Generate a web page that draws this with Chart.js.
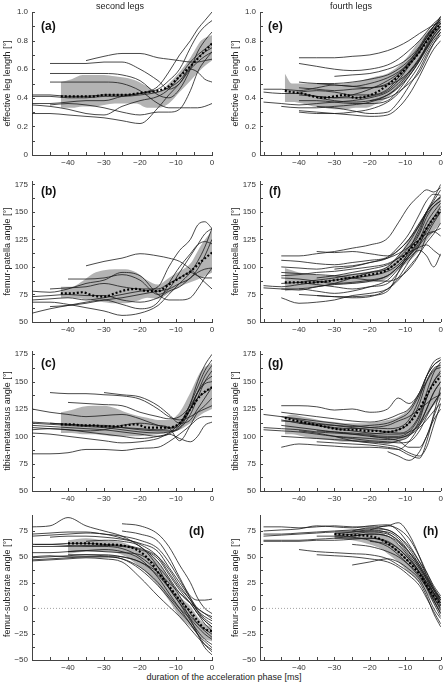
<!DOCTYPE html>
<html>
<head>
<meta charset="utf-8">
<script src="https://cdn.jsdelivr.net/npm/chart.js@4.4.0/dist/chart.umd.min.js"></script>
<style>
  body { margin: 0; width: 446px; height: 685px; background: #fff; position: relative; overflow: hidden;
         font-family: "Liberation Sans", Arial, sans-serif; }
  canvas { position: absolute; }
  .txt { position: absolute; font-size: 9px; color: #222; white-space: nowrap; transform: translate(-50%, -50%); }
  .tag { position: absolute; font-size: 12px; font-weight: bold; color: #111; white-space: nowrap; }
</style>
</head>
<body>
<div class="txt" style="left:120px;top:6px">second legs</div>
<div class="txt" style="left:351px;top:6px">fourth legs</div>
<div class="txt" style="left:224px;top:677px">duration of the acceleration phase [ms]</div>
<div class="tag" style="left:41px;top:19px">(a)</div>
<div class="tag" style="left:41px;top:184px">(b)</div>
<div class="tag" style="left:41px;top:356px">(c)</div>
<div class="tag" style="left:189px;top:524px">(d)</div>
<div class="tag" style="left:268px;top:19px">(e)</div>
<div class="tag" style="left:269px;top:184px">(f)</div>
<div class="tag" style="left:268px;top:356px">(g)</div>
<div class="tag" style="left:423px;top:524px">(h)</div>
<script>
const _ = null;

// time grid of the single trials (ms before the end of the acceleration phase)
const lineX = [-50, -45, -40, -35, -30, -25, -20, -15, -12, -9, -6, -4, -2, 0];

// tick labels
const timeTicks = [-40, -30, -20, -10, 0];
const lenTicks = [0, 0.2, 0.4, 0.6, 0.8, 1.0];
const angTicks = [50, 75, 100, 125, 150, 175];
const subTicks = [-50, -25, 0, 25, 50, 75];

// (a) second legs, effective leg length
const bandXa = [-42, -39, -36, -33, -30, -27, -24, -21, -18, -15, -12, -9, -6, -3, 0];
const upperA = [0.51, 0.53, 0.56, 0.56, 0.56, 0.55, 0.54, 0.52, 0.48, 0.44, 0.50, 0.58, 0.68, 0.80, 0.84];
const lowerA = [0.33, 0.33, 0.34, 0.34, 0.35, 0.36, 0.36, 0.36, 0.33, 0.33, 0.36, 0.44, 0.52, 0.60, 0.66];
const meanA = [0.41, 0.41, 0.41, 0.41, 0.42, 0.42, 0.42, 0.43, 0.44, 0.45, 0.48, 0.55, 0.62, 0.70, 0.78];
const linesA = [
  [_, _, _, 0.66, 0.69, 0.71, 0.71, 0.68, 0.67, 0.66, 0.65, 0.65, 0.66, 0.67],
  [_, 0.64, 0.64, 0.64, 0.65, 0.65, 0.60, 0.52, 0.46, 0.50, 0.60, 0.58, 0.53, 0.51],
  [_, 0.57, 0.57, 0.57, 0.57, 0.56, 0.52, 0.42, 0.40, 0.46, 0.60, 0.72, 0.80, 0.86],
  [_, 0.51, 0.51, 0.51, 0.51, 0.50, 0.45, 0.36, 0.33, 0.33, 0.33, 0.33, 0.34, 0.36],
  [0.42, 0.42, 0.41, 0.41, 0.42, 0.42, 0.43, 0.46, 0.52, 0.60, 0.75, 0.84, 0.90, 0.94],
  [0.36, 0.36, 0.37, 0.38, 0.38, 0.41, 0.43, 0.48, 0.58, 0.70, 0.80, 0.88, 0.94, 1.00],
  [0.35, 0.34, 0.32, 0.29, 0.28, 0.34, 0.38, 0.41, 0.46, 0.55, 0.65, 0.70, 0.74, 0.78],
  [0.29, 0.29, 0.28, 0.27, 0.26, 0.24, 0.22, 0.33, 0.42, 0.50, 0.60, 0.65, 0.69, 0.72],
  [_, 0.35, 0.36, 0.35, 0.33, 0.30, 0.28, 0.30, 0.30, 0.32, 0.45, 0.58, 0.66, 0.72],
  [0.41, 0.41, 0.40, 0.40, 0.41, 0.41, 0.42, 0.44, 0.47, 0.52, 0.62, 0.68, 0.72, 0.75]
];

// (e) fourth legs, effective leg length
const bandXe = [-44, -42, -39, -36, -33, -30, -27, -24, -21, -18, -15, -12, -9, -6, -3, 0];
const upperE = [0.57, 0.50, 0.50, 0.50, 0.50, 0.49, 0.50, 0.51, 0.53, 0.55, 0.57, 0.62, 0.70, 0.80, 0.88, 0.95];
const lowerE = [0.37, 0.37, 0.36, 0.34, 0.33, 0.32, 0.32, 0.33, 0.33, 0.36, 0.40, 0.47, 0.55, 0.65, 0.77, 0.87];
const meanE = [0.45, 0.44, 0.43, 0.41, 0.40, 0.41, 0.42, 0.40, 0.41, 0.44, 0.49, 0.55, 0.63, 0.72, 0.83, 0.92];
const linesE = [
  [_, _, 0.68, 0.68, 0.68, 0.69, 0.70, 0.73, 0.76, 0.80, 0.85, 0.88, 0.91, 0.93],
  [_, _, 0.64, 0.62, 0.60, 0.59, 0.60, 0.63, 0.67, 0.73, 0.80, 0.86, 0.92, 0.96],
  [_, _, _, _, 0.55, 0.56, 0.57, 0.60, 0.63, 0.68, 0.76, 0.84, 0.90, 0.95],
  [_, _, 0.51, 0.50, 0.50, 0.51, 0.53, 0.56, 0.60, 0.66, 0.75, 0.82, 0.90, 0.97],
  [0.46, 0.46, 0.45, 0.47, 0.49, 0.48, 0.50, 0.54, 0.58, 0.64, 0.72, 0.80, 0.88, 0.94],
  [0.44, 0.43, 0.43, 0.41, 0.40, 0.42, 0.46, 0.52, 0.57, 0.65, 0.75, 0.83, 0.90, 0.95],
  [_, _, 0.47, 0.46, 0.45, 0.46, 0.47, 0.50, 0.56, 0.64, 0.74, 0.82, 0.88, 0.92],
  [_, _, 0.42, 0.41, 0.40, 0.40, 0.41, 0.45, 0.52, 0.62, 0.72, 0.80, 0.86, 0.90],
  [0.37, 0.36, 0.35, 0.36, 0.37, 0.38, 0.40, 0.44, 0.50, 0.58, 0.68, 0.76, 0.84, 0.90],
  [_, 0.34, 0.33, 0.33, 0.34, 0.35, 0.37, 0.42, 0.48, 0.57, 0.67, 0.75, 0.82, 0.88],
  [_, _, 0.30, 0.29, 0.29, 0.30, 0.32, 0.37, 0.43, 0.52, 0.63, 0.72, 0.80, 0.86],
  [_, _, 0.31, 0.30, 0.29, 0.28, 0.27, 0.28, 0.33, 0.42, 0.55, 0.65, 0.74, 0.80],
  [_, _, _, 0.34, 0.33, 0.31, 0.29, 0.30, 0.37, 0.48, 0.60, 0.70, 0.78, 0.84],
  [_, _, _, _, _, _, 0.38, 0.40, 0.44, 0.50, 0.58, 0.68, 0.78, 0.86],
  [_, _, 0.38, 0.38, 0.37, 0.36, 0.36, 0.38, 0.45, 0.55, 0.66, 0.74, 0.82, 0.88],
  [_, _, 0.44, 0.45, 0.44, 0.42, 0.42, 0.46, 0.54, 0.63, 0.73, 0.80, 0.87, 0.92],
  [_, _, _, 0.50, 0.49, 0.48, 0.47, 0.49, 0.52, 0.58, 0.67, 0.75, 0.84, 0.90],
  [_, _, _, 0.40, 0.38, 0.37, 0.38, 0.42, 0.47, 0.55, 0.66, 0.77, 0.87, 0.97]
];

// (b) second legs, femur-patella angle
const bandXb = [-42, -39, -36, -33, -30, -27, -24, -21, -18, -15, -12, -9, -6, -3, 0];
const upperB = [82, 82, 87, 94, 97, 98, 98, 95, 88, 84, 90, 96, 103, 120, 133];
const lowerB = [72, 72, 71, 69, 68, 67, 67, 69, 72, 71, 76, 82, 86, 90, 95];
const meanB = [76, 76, 77, 74, 73, 76, 79, 80, 78, 78, 84, 90, 96, 105, 113];
const linesB = [
  [_, _, _, 101, 105, 108, 112, 110, 108, 105, 98, 92, 86, 80],
  [78, 77, 80, 85, 88, 95, 92, 75, 70, 70, 72, 80, 90, 99],
  [_, _, 89, 89, 90, 93, 88, 75, 80, 95, 110, 120, 130, 135],
  [70, 71, 72, 70, 72, 75, 78, 82, 100, 115, 125, 138, 141, 135],
  [58, 62, 65, 68, 70, 66, 62, 68, 85, 100, 112, 120, 123, 121],
  [68, 68, 66, 63, 60, 56, 58, 65, 75, 85, 95, 105, 118, 135],
  [_, 64, 65, 67, 70, 72, 75, 78, 80, 85, 90, 98, 110, 125],
  [73, 74, 75, 74, 74, 70, 68, 72, 78, 82, 90, 95, 98, 99],
  [_, 80, 81, 82, 85, 82, 80, 80, 85, 90, 95, 92, 90, 90]
];

// (f) fourth legs, femur-patella angle
const bandXf = [-44, -40, -36, -32, -28, -24, -20, -16, -12, -9, -6, -3, 0];
const upperF = [99, 95, 93, 92, 93, 94, 96, 99, 110, 125, 140, 155, 165];
const lowerF = [78, 80, 82, 83, 84, 85, 86, 88, 98, 105, 115, 128, 140];
const meanF = [86, 86, 86, 87, 89, 91, 93, 96, 105, 115, 125, 140, 152];
const linesF = [
  [_, 110, 110, 112, 114, 117, 120, 126, 140, 155, 165, 170, 168, 172],
  [_, _, _, 114, 113, 114, 112, 110, 115, 125, 140, 150, 160, 170],
  [_, 106, 105, 103, 102, 104, 106, 109, 118, 130, 148, 160, 166, 165],
  [_, 100, 99, 98, 100, 101, 104, 108, 115, 125, 138, 150, 158, 163],
  [83, 82, 84, 86, 88, 90, 92, 96, 102, 112, 125, 135, 145, 155],
  [81, 80, 79, 82, 84, 85, 87, 92, 100, 110, 122, 132, 142, 150],
  [_, 72, 67, 68, 70, 74, 76, 80, 88, 100, 112, 122, 130, 140],
  [_, _, 75, 74, 73, 73, 74, 78, 95, 115, 135, 148, 155, 160],
  [_, 80, 80, 78, 76, 78, 82, 88, 98, 108, 115, 110, 100, 112],
  [_, 92, 93, 95, 96, 98, 100, 103, 108, 113, 118, 120, 115, 110],
  [_, _, _, 90, 92, 95, 98, 102, 108, 118, 132, 150, 162, 175],
  [_, 85, 86, 88, 90, 93, 95, 98, 105, 115, 130, 145, 155, 160],
  [_, 95, 94, 93, 92, 90, 88, 87, 90, 98, 112, 128, 140, 150],
  [_, _, 80, 82, 85, 90, 95, 100, 110, 122, 138, 150, 158, 164],
  [_, _, _, 74, 73, 72, 73, 80, 90, 105, 120, 135, 145, 150],
  [_, 90, 89, 87, 85, 86, 88, 92, 100, 110, 120, 128, 132, 135],
  [_, _, 86, 84, 82, 80, 82, 85, 95, 110, 125, 140, 150, 158],
  [_, _, _, _, 98, 100, 104, 108, 112, 118, 125, 130, 132, 128]
];

// (c) second legs, tibia-metatarsus angle
const bandXc = [-42, -39, -36, -33, -30, -27, -24, -21, -18, -15, -12, -9, -6, -3, 0];
const upperC = [122, 124, 127, 128, 128, 126, 122, 119, 117, 115, 115, 122, 140, 160, 167];
const lowerC = [103, 103, 102, 102, 101, 100, 100, 100, 101, 102, 103, 106, 112, 120, 125];
const meanC = [111, 111, 110, 110, 109, 109, 110, 111, 108, 108, 108, 112, 125, 138, 145];
const linesC = [
  [_, 140, 139, 139, 138, 137, 134, 125, 118, 115, 118, 122, 125, 128],
  [_, _, 131, 130, 129, 128, 122, 118, 116, 118, 128, 140, 150, 155],
  [_, _, _, _, 140, 138, 136, 128, 120, 112, 115, 125, 135, 145],
  [125, 122, 120, 118, 119, 120, 116, 110, 108, 112, 130, 145, 160, 170],
  [113, 112, 111, 110, 110, 108, 106, 105, 105, 108, 125, 140, 155, 165],
  [112, 111, 110, 109, 108, 106, 104, 103, 104, 107, 120, 135, 150, 160],
  [110, 109, 108, 107, 106, 104, 102, 100, 102, 110, 130, 150, 165, 175],
  [106, 107, 106, 104, 102, 100, 98, 100, 103, 112, 125, 135, 140, 145],
  [103, 102, 100, 98, 96, 94, 95, 98, 102, 98, 95, 100, 110, 113],
  [84, 84, 85, 88, 88, 87, 89, 90, 95, 102, 110, 116, 118, 118],
  [108, 107, 106, 105, 106, 110, 112, 110, 108, 96, 110, 122, 128, 135],
  [_, 112, 111, 110, 109, 108, 107, 106, 107, 110, 125, 140, 148, 150]
];

// (g) fourth legs, tibia-metatarsus angle
const bandXg = [-44, -42, -39, -36, -33, -30, -27, -24, -21, -18, -15, -12, -9, -6, -3, 0];
const upperG = [118, 120, 118, 116, 114, 113, 112, 112, 112, 113, 115, 118, 125, 140, 158, 167];
const lowerG = [102, 102, 100, 98, 97, 96, 95, 95, 94, 94, 93, 95, 100, 110, 124, 135];
const meanG = [117, 115, 113, 111, 109, 107, 106, 106, 105, 105, 104, 106, 112, 125, 143, 155];
const linesG = [
  [_, 128, 128, 127, 124, 125, 122, 125, 135, 130, 140, 155, 165, 170],
  [_, 122, 120, 118, 116, 114, 113, 116, 120, 125, 140, 155, 165, 170],
  [120, 118, 116, 114, 112, 110, 108, 107, 108, 115, 135, 155, 168, 172],
  [_, 118, 115, 112, 110, 108, 106, 104, 103, 106, 120, 140, 158, 168],
  [108, 107, 106, 104, 103, 102, 101, 100, 100, 104, 118, 135, 150, 160],
  [106, 105, 104, 102, 100, 99, 98, 97, 98, 102, 112, 125, 140, 150],
  [_, _, 112, 110, 107, 105, 103, 102, 102, 104, 110, 120, 130, 140],
  [_, _, 105, 103, 100, 98, 96, 95, 94, 95, 105, 118, 130, 140],
  [_, 90, 93, 92, 91, 90, 90, 89, 88, 95, 110, 125, 140, 150],
  [_, _, _, _, 100, 96, 94, 92, 90, 85, 82, 90, 110, 130],
  [_, _, _, 95, 94, 93, 92, 90, 88, 83, 80, 95, 120, 145],
  [_, 115, 112, 110, 108, 107, 108, 110, 114, 118, 125, 130, 135, 138],
  [_, 110, 108, 106, 104, 103, 102, 104, 106, 112, 130, 150, 162, 165],
  [_, _, _, _, _, _, 100, 98, 96, 90, 90, 100, 115, 125],
  [_, 114, 113, 111, 110, 109, 110, 112, 116, 122, 138, 150, 160, 163],
  [_, 100, 99, 98, 97, 96, 95, 94, 96, 100, 115, 135, 150, 158],
  [_, _, _, 105, 104, 102, 100, 99, 99, 101, 108, 115, 123, 130],
  [_, _, _, _, _, _, _, 86, 82, 78, 86, 100, 118, 135]
];

// (d) second legs, femur-substrate angle
const bandXd = [-40, -35, -30, -25, -20, -17, -15, -12, -9, -6, -4, -2, 0];
const upperD = [66, 68, 66, 64, 57, 52, 45, 30, 12, 2, -8, -15, -18];
const lowerD = [53, 55, 55, 52, 40, 30, 22, 8, -8, -18, -25, -30, -32];
const meanD = [63, 63, 62, 61, 55, 45, 35, 22, 8, -3, -12, -20, -22];
const linesD = [
  [79, 80, 88, 80, 75, 70, 60, 45, 30, 15, 5, 0, -5, -10],
  [70, 71, 72, 73, 72, 68, 62, 50, 35, 20, 8, -2, -8, -12],
  [_, 69, 70, 70, 69, 67, 63, 55, 40, 25, 10, 0, -5, -8],
  [62, 62, 63, 63, 62, 61, 58, 50, 38, 22, 8, -3, -12, -18],
  [60, 60, 60, 61, 61, 60, 57, 48, 33, 18, 5, -5, -15, -22],
  [50, 51, 50, 50, 50, 48, 40, 25, 12, 0, -10, -18, -25, -30],
  [47, 48, 49, 50, 50, 48, 38, 22, 10, -3, -15, -25, -32, -38],
  [46, 47, 48, 49, 48, 45, 30, 12, 2, -8, -20, -28, -35, -40],
  [_, _, 52, 52, 51, 50, 45, 35, 25, 15, 5, -5, -12, -18],
  [_, _, _, _, _, 82, 80, 72, 60, 42, 25, 10, 0, -5],
  [_, _, _, _, _, 75, 72, 65, 50, 30, 12, 8, 8, 9],
  [62, 62, 61, 60, 60, 58, 50, 35, 20, 5, -8, -15, -20, -25],
  [_, _, 55, 56, 57, 55, 48, 30, 15, 0, -15, -25, -35, -42],
  [54, 54, 55, 56, 55, 54, 52, 40, 28, 12, -5, -15, -22, -28],
  [_, _, _, 65, 66, 65, 60, 40, 20, 5, -12, -22, -30, -35],
  [72, 73, 74, 74, 72, 70, 66, 58, 45, 28, 10, -2, -10, -15],
  [49, 50, 51, 52, 52, 50, 45, 32, 20, 8, -10, -25, -38, -45]
];

// (h) fourth legs, femur-substrate angle
const bandXh = [-30, -25, -20, -17, -15, -12, -9, -6, -4, -2, 0];
const upperH = [75, 76, 76, 74, 70, 62, 52, 40, 30, 18, 10];
const lowerH = [68, 66, 62, 58, 53, 45, 35, 25, 15, 5, -5];
const meanH = [72, 71, 70, 67, 63, 55, 45, 33, 22, 12, 3];
const linesH = [
  [79, 79, 78, 79, 80, 79, 79, 80, 83, 72, 50, 32, 18, 8],
  [75, 76, 77, 80, 79, 78, 80, 81, 75, 62, 45, 32, 20, 10],
  [72, 72, 73, 74, 75, 76, 77, 76, 70, 58, 42, 30, 18, 5],
  [70, 71, 72, 73, 74, 74, 75, 74, 68, 55, 40, 28, 15, 2],
  [66, 66, 66, 67, 68, 70, 72, 70, 64, 52, 38, 25, 12, -2],
  [65, 65, 65, 66, 66, 67, 68, 65, 58, 48, 35, 22, 8, -5],
  [_, _, 57, 55, 54, 53, 52, 48, 42, 35, 25, 12, -5, -18],
  [_, _, _, 52, 51, 50, 48, 45, 40, 32, 22, 10, -3, -15],
  [_, _, _, _, _, 42, 45, 48, 45, 38, 28, 15, 0, -10],
  [_, _, _, _, 70, 72, 74, 72, 66, 55, 42, 30, 18, 10],
  [_, _, _, _, 72, 74, 76, 73, 65, 54, 40, 28, 15, 8],
  [_, _, _, _, _, 75, 78, 76, 70, 60, 45, 35, 22, 12],
  [_, _, _, _, 68, 68, 68, 64, 58, 48, 35, 25, 15, 5],
  [_, _, _, _, _, _, 76, 80, 77, 68, 50, 35, 20, 8],
  [_, _, _, 70, 70, 69, 66, 60, 52, 42, 30, 20, 8, -5],
  [_, _, _, _, _, 70, 72, 70, 62, 50, 35, 22, 10, 0],
  [_, _, _, _, _, 62, 60, 55, 50, 42, 32, 20, 5, -8],
  [_, _, _, _, _, _, 65, 62, 55, 45, 35, 25, 15, 5]
];

const BAND = '#b3b3b3';
const LINE = '#1a1a1a';
const AXIS = '#444';
const TICK_COLOR = '#333';
const FONT = '"Liberation Sans", Arial, sans-serif';

function fmt(v) {
  return v < 0 ? '\u2212' + Math.abs(v) : String(v);
}

// every major tick gets a minor tick half way to the next one
function withMinor(major) {
  const out = [];
  major.forEach((v, i) => {
    out.push(v);
    if (i < major.length - 1) out.push((v + major[i + 1]) / 2);
  });
  return out;
}

// short tick marks pointing into the plot, matlab style
const inwardTicks = {
  id: 'inwardTicks',
  afterDraw(chart) {
    const { ctx, chartArea: a, scales: { x, y } } = chart;
    ctx.save();
    ctx.strokeStyle = AXIS;
    ctx.lineWidth = 1;
    ctx.beginPath();
    x.ticks.forEach(t => {
      const px = Math.round(x.getPixelForValue(t.value)) + 0.5;
      ctx.moveTo(px, a.bottom);
      ctx.lineTo(px, a.bottom - 3);
    });
    y.ticks.forEach(t => {
      const py = Math.round(y.getPixelForValue(t.value)) + 0.5;
      ctx.moveTo(a.left, py);
      ctx.lineTo(a.left + 3, py);
    });
    ctx.stroke();
    ctx.restore();
  }
};

function buildPanel(p) {
  const cv = document.createElement('canvas');
  cv.width = p.w;
  cv.height = p.h;
  cv.style.left = p.cx + 'px';
  cv.style.top = p.cy + 'px';
  cv.style.width = p.w + 'px';
  cv.style.height = p.h + 'px';
  document.body.insertBefore(cv, document.body.firstChild);

  const pts = (xs, ys) => xs.map((x, i) => ({ x: x, y: ys[i] }));
  const datasets = [];
  datasets.push({ data: pts(p.bandX, p.upper), borderColor: 'rgba(0,0,0,0)', backgroundColor: BAND, fill: '+1', order: 9 });
  datasets.push({ data: pts(p.bandX, p.lower), borderColor: 'rgba(0,0,0,0)', fill: false, order: 9 });
  if (p.zero) {
    datasets.push({ data: [{ x: p.xMin, y: 0 }, { x: 0, y: 0 }], borderColor: '#8a8a8a', borderWidth: 0.8, borderDash: [1, 2], order: 8 });
  }
  p.lines.forEach(l => {
    datasets.push({ data: pts(lineX, l), borderColor: LINE, borderWidth: 0.8, order: 5 });
  });
  datasets.push({ data: pts(p.bandX, p.mean), borderColor: '#000', borderWidth: 2.2, borderDash: [2, 2], order: 1 });

  const yAll = withMinor(p.yMajor);
  const xAll = withMinor([-50, -40, -30, -20, -10, 0]);

  new Chart(cv, {
    type: 'line',
    data: { datasets: datasets },
    plugins: [inwardTicks],
    options: {
      responsive: false,
      animation: false,
      events: [],
      layout: { padding: { left: 0, top: p.T - p.cy, right: p.cx + p.w - p.R, bottom: 0 } },
      elements: { point: { radius: 0 }, line: { cubicInterpolationMode: 'monotone' } },
      plugins: { legend: { display: false }, tooltip: { enabled: false }, filler: { propagate: false, drawTime: 'beforeDatasetsDraw' } },
      scales: {
        x: {
          type: 'linear', min: p.xMin, max: 0,
          grid: { display: false, drawTicks: false },
          border: { display: true, color: AXIS, width: 1 },
          afterBuildTicks: s => { s.ticks = xAll.map(v => ({ value: v })); },
          afterFit: s => { s.height = p.cy + p.h - p.B; },
          ticks: {
            autoSkip: false, maxRotation: 0, padding: 3, color: TICK_COLOR,
            font: { family: FONT, size: 8 },
            callback: v => timeTicks.includes(v) ? fmt(v) : ''
          }
        },
        y: {
          type: 'linear', min: p.yMin, max: p.yMax,
          grid: { display: false, drawTicks: false },
          border: { display: true, color: AXIS, width: 1 },
          afterBuildTicks: s => { s.ticks = yAll.map(v => ({ value: v })); },
          afterFit: s => { s.width = p.L - p.cx; },
          title: { display: true, text: p.title, color: '#222', font: { family: FONT, size: 9 }, padding: { top: 2, bottom: 0 } },
          ticks: {
            autoSkip: false, padding: 4, color: TICK_COLOR,
            font: { family: FONT, size: 8 },
            callback: v => p.yMajor.includes(v) ? p.yFmt(v) : ''
          }
        }
      }
    }
  });
}

const lenFmt = v => v === 0 ? '0' : v.toFixed(1);

const left = { cx: 0, w: 223, L: 32, R: 212, xMin: -50 };
const right = { cx: 228, w: 218, L: 260, R: 442, xMin: -51 };
const rowA = { cy: 0, h: 172, T: 12, B: 155 };
const rowB = { cy: 172, h: 166, T: 181, B: 322 };
const rowC = { cy: 338, h: 166, T: 351, B: 491 };
const rowD = { cy: 504, h: 166, T: 515.5, B: 660 };

const lenAxis = { yMin: 0, yMax: 1.0, yMajor: lenTicks, yFmt: lenFmt, title: 'effective leg length [\u00b0]' };
const fpAxis = { yMin: 50, yMax: 178, yMajor: angTicks, yFmt: fmt, title: 'femur-patella angle [\u00b0]' };
const tmAxis = { yMin: 50, yMax: 178, yMajor: angTicks, yFmt: fmt, title: 'tibia-metatarsus angle [\u00b0]' };
const fsAxis = { yMin: -50, yMax: 90, yMajor: subTicks, yFmt: fmt, title: 'femur-substrate angle [\u00b0]', zero: true };

buildPanel(Object.assign({}, left, rowA, lenAxis, { bandX: bandXa, upper: upperA, lower: lowerA, mean: meanA, lines: linesA }));
buildPanel(Object.assign({}, right, rowA, lenAxis, { bandX: bandXe, upper: upperE, lower: lowerE, mean: meanE, lines: linesE }));
buildPanel(Object.assign({}, left, rowB, fpAxis, { bandX: bandXb, upper: upperB, lower: lowerB, mean: meanB, lines: linesB }));
buildPanel(Object.assign({}, right, rowB, fpAxis, { bandX: bandXf, upper: upperF, lower: lowerF, mean: meanF, lines: linesF }));
buildPanel(Object.assign({}, left, rowC, tmAxis, { bandX: bandXc, upper: upperC, lower: lowerC, mean: meanC, lines: linesC }));
buildPanel(Object.assign({}, right, rowC, tmAxis, { bandX: bandXg, upper: upperG, lower: lowerG, mean: meanG, lines: linesG }));
buildPanel(Object.assign({}, left, rowD, fsAxis, { bandX: bandXd, upper: upperD, lower: lowerD, mean: meanD, lines: linesD }));
buildPanel(Object.assign({}, right, rowD, fsAxis, { bandX: bandXh, upper: upperH, lower: lowerH, mean: meanH, lines: linesH }));
</script>
</body>
</html>
